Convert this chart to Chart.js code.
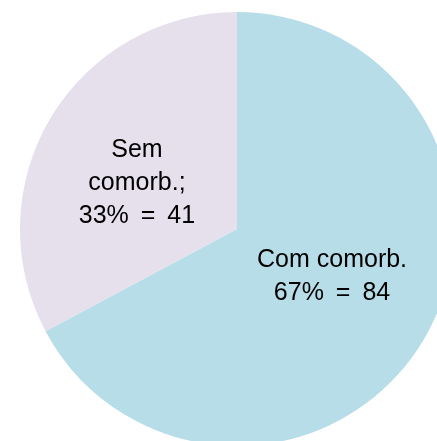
<!DOCTYPE html>
<html>
<head>
<meta charset="utf-8">
<script src="https://cdn.jsdelivr.net/npm/chart.js@4"></script>
<style>
  html, body { margin: 0; padding: 0; background: #ffffff; overflow: hidden; width: 437px; height: 441px; }
  #wrap { position: absolute; left: 20px; top: 12px; width: 434px; height: 434px; }
</style>
</head>
<body>
<div id="wrap"><canvas id="pie"></canvas></div>
<script>
const categories = ['Com comorb.', 'Sem comorb.;'];
const labelLines = [['Com comorb.'], ['Sem', 'comorb.;']];
const counts = [84, 41];
const colors = ['#b7dde8', '#e5e0ec'];

const total = counts.reduce((a, b) => a + b, 0);

// small nudges so the labels sit where Excel's "best fit" put them
const labelNudge = [{ x: 2, y: -8 }, { x: -7, y: 10 }];

const sliceLabels = {
  id: 'sliceLabels',
  afterDatasetsDraw(chart) {
    const ctx = chart.ctx;
    const meta = chart.getDatasetMeta(0);
    ctx.save();
    ctx.font = '25px "Liberation Sans", Arial, sans-serif';
    ctx.fillStyle = '#000000';
    ctx.textAlign = 'center';
    ctx.textBaseline = 'middle';
    const lineH = 33;
    meta.data.forEach((arc, i) => {
      const pos = arc.tooltipPosition();
      const pct = Math.round(counts[i] / total * 100);
      const lines = [...labelLines[i], `${pct}% = ${counts[i]}`];
      const x = pos.x + labelNudge[i].x;
      const top = pos.y + labelNudge[i].y - (lines.length - 1) * lineH / 2;
      lines.forEach((t, k) => {
        // the value line is set a little looser in the original
        ctx.wordSpacing = k === lines.length - 1 ? '5px' : '0px';
        ctx.fillText(t, x, top + k * lineH);
      });
    });
    ctx.restore();
  }
};

new Chart(document.getElementById('pie'), {
  type: 'pie',
  data: {
    labels: categories,
    datasets: [{
      data: counts,
      backgroundColor: colors,
      borderWidth: 0
    }]
  },
  options: {
    responsive: true,
    maintainAspectRatio: false,
    animation: false,
    layout: { padding: 0 },
    plugins: {
      legend: { display: false },
      tooltip: { enabled: false }
    }
  },
  plugins: [sliceLabels]
});
</script>
</body>
</html>
